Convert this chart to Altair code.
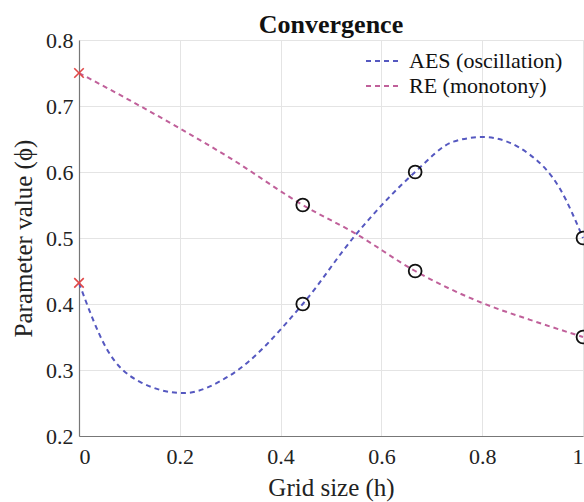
import altair as alt
import pandas as pd

# Fitted curves (sampled along h)
aes_curve_h = [0.0, 0.055, 0.121, 0.207, 0.30, 0.444, 0.548, 0.667, 0.743, 0.802, 0.895, 0.954, 1.0]
aes_curve_v = [0.432, 0.332, 0.282, 0.265, 0.292, 0.400, 0.504, 0.600, 0.646, 0.653, 0.626, 0.575, 0.500]
re_curve_h = [0.0, 0.088, 0.2, 0.30, 0.444, 0.548, 0.667, 0.802, 0.895, 1.0]
re_curve_v = [0.750, 0.714, 0.666, 0.621, 0.550, 0.507, 0.450, 0.401, 0.376, 0.350]

# Computed grid results
grid_h = [0.444, 0.667, 1.0]
aes_values = [0.40, 0.60, 0.50]
re_values = [0.55, 0.45, 0.35]

# Extrapolated values at h = 0
extrap_h = [0.0, 0.0]
extrap_v = [0.432, 0.75]

series_names = ["AES (oscillation)", "RE (monotony)"]
series_colors = ["#5558c0", "#c0609a"]

curves = pd.concat([
    pd.DataFrame({"h": aes_curve_h, "v": aes_curve_v, "series": series_names[0]}),
    pd.DataFrame({"h": re_curve_h, "v": re_curve_v, "series": series_names[1]}),
])
points = pd.DataFrame({"h": grid_h + grid_h, "v": aes_values + re_values})
extrap = pd.DataFrame({"h": extrap_h, "v": extrap_v})

FONT = "Liberation Serif"
DASH = [5, 4]

x_enc = alt.X("h:Q", scale=alt.Scale(domain=[0, 1], nice=False),
              axis=alt.Axis(title="Grid size (h)", values=[0, 0.2, 0.4, 0.6, 0.8, 1.0],
                            format="~g", labelPadding=10, titlePadding=8))
y_enc = alt.Y("v:Q", scale=alt.Scale(domain=[0.2, 0.8], nice=False),
              axis=alt.Axis(title="Parameter value (ϕ)", values=[0.2, 0.3, 0.4, 0.5, 0.6, 0.7, 0.8],
                            format=".1f", labelPadding=6, titlePadding=9))

lines = alt.Chart(curves).mark_line(strokeDash=DASH, strokeWidth=2, interpolate="monotone").encode(
    x=x_enc,
    y=y_enc,
    color=alt.Color("series:N", scale=alt.Scale(domain=series_names, range=series_colors),
                    legend=None),
    detail="series:N",
)

circles = alt.Chart(points).mark_point(shape="circle", size=165, filled=False,
                                       color="#111", strokeWidth=1.8, opacity=1).encode(
    x="h:Q", y="v:Q"
)

crosses = alt.Chart(extrap).mark_point(shape="M-1,-1L1,1M-1,1L1,-1", size=90, filled=False,
                                       color="#e04848", strokeWidth=1.6, opacity=1).encode(
    x="h:Q", y="v:Q"
)

# Legend in the upper right corner: dashed key + label per series
legend_layers = []
for i, (name, col) in enumerate(zip(series_names, series_colors)):
    row_y = 21 + 25 * i
    row = pd.DataFrame({"series": [name]})
    key = alt.Chart(row).mark_rule(strokeDash=DASH, strokeWidth=2, color=col).encode(
        x=alt.value(287), x2=alt.value(322), y=alt.value(row_y)
    )
    label = alt.Chart(row).mark_text(font=FONT, fontSize=22, color="#111", align="left",
                                     baseline="middle").encode(
        x=alt.value(330), y=alt.value(row_y), text="series:N"
    )
    legend_layers += [key, label]

# Chart heading above the plot area
heading = alt.Chart(pd.DataFrame({"t": ["Convergence"]})).mark_text(
    font=FONT, fontSize=26, fontWeight="bold", color="#111", align="center", baseline="alphabetic"
).encode(x=alt.value(252), y=alt.value(-7), text="t:N")

chart = alt.layer(lines, circles, crosses, *legend_layers, heading).properties(
    width=504, height=396,
    autosize=alt.AutoSizeParams(type="none"),
    padding={"left": 79, "top": 40, "right": 1, "bottom": 66},
    background="white",
).configure_view(
    stroke="#e4e4e4"
).configure_axis(
    labelFont=FONT, labelFontSize=22, labelColor="#222",
    titleFont=FONT, titleFontSize=25, titleFontWeight="normal", titleColor="#222",
    domainColor="#777", domainWidth=1.2, ticks=False,
    gridColor="#e4e4e4", gridWidth=1,
)

chart.save("out.html", embed_options={"renderer": "svg", "actions": False})
